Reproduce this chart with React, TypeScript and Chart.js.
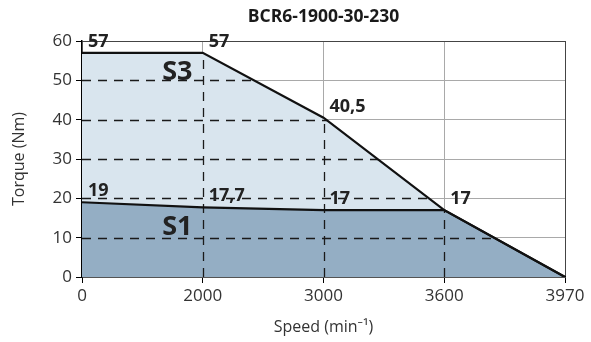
import React, { useEffect, useRef } from 'react';
import { Chart, registerables } from 'chart.js';

Chart.register(...registerables);

const chartTitle = 'BCR6-1900-30-230';
const xTitle = 'Speed (min⁻¹)';
const yTitle = 'Torque (Nm)';
const speedLabels = ['0', '2000', '3000', '3600', '3970'];
const s3Torque = [57, 57, 40.5, 17, 0];
const s1Torque = [19, 17.7, 17, 17, 0];
const s3LabelIdx = [0, 1, 2, 3];
const s1LabelIdx = [0, 1, 2];
const regionNames = ['S1', 'S3'];
const yMax = 60;
const yStep = 10;

const FAMILY = "'Open Sans', 'Noto Sans', sans-serif";
const GRID = '#a9a9a9';
const FRAME = '#444444';
const TEXT = '#333333';

const fmt = (v: number) => String(v).replace('.', ',');

const overlayPlugin = {
  id: 'overlay',
  beforeDatasetsDraw(chart: any) {
    const { ctx, chartArea: a, scales } = chart;
    const x = scales.x;
    const y = scales.y;
    const pts = chart.getDatasetMeta(1).data;
    const y0 = y.getPixelForValue(0);
    ctx.save();
    ctx.beginPath();
    pts.forEach((p: any, i: number) => (i ? ctx.lineTo(p.x, p.y) : ctx.moveTo(p.x, p.y)));
    ctx.lineTo(pts[pts.length - 1].x, y0);
    ctx.lineTo(pts[0].x, y0);
    ctx.closePath();
    ctx.clip();
    ctx.setLineDash([9, 7]);
    ctx.strokeStyle = '#1a1a1a';
    ctx.lineWidth = 1.3;
    y.ticks.forEach((t: any) => {
      if (t.value > 0 && t.value < yMax) {
        const py = Math.round(y.getPixelForValue(t.value)) + 0.5;
        ctx.beginPath();
        ctx.moveTo(a.left, py);
        ctx.lineTo(a.right, py);
        ctx.stroke();
      }
    });
    x.ticks.forEach((t: any, i: number) => {
      if (i > 0 && i < x.ticks.length - 1) {
        const px = Math.round(x.getPixelForTick(i)) + 0.5;
        ctx.beginPath();
        ctx.moveTo(px, a.bottom);
        ctx.lineTo(px, a.top);
        ctx.stroke();
      }
    });
    ctx.restore();
  },
  afterDatasetsDraw(chart: any) {
    const { ctx, scales } = chart;
    const x = scales.x;
    const y = scales.y;
    ctx.save();
    ctx.fillStyle = '#222222';
    ctx.textAlign = 'left';
    ctx.textBaseline = 'alphabetic';
    ctx.font = `bold 18px ${FAMILY}`;
    const drawLabels = (dsIndex: number, idx: number[], values: number[]) => {
      const pts = chart.getDatasetMeta(dsIndex).data;
      idx.forEach((i) => {
        ctx.fillText(fmt(values[i]), pts[i].x + 6, pts[i].y - 6);
      });
    };
    drawLabels(1, s3LabelIdx, s3Torque);
    drawLabels(0, s1LabelIdx, s1Torque);

    ctx.font = `bold 27px ${FAMILY}`;
    ctx.textAlign = 'center';
    ctx.textBaseline = 'middle';
    const regionPos = [
      [0.79, 12.7],
      [0.79, 52],
    ];
    regionNames.forEach((name, k) => {
      const px = x.getPixelForValue(regionPos[k][0]);
      const py = y.getPixelForValue(regionPos[k][1]);
      ctx.fillText(name, px, py);
    });
    ctx.restore();
  },
};

export default function App() {
  const canvasRef = useRef<HTMLCanvasElement | null>(null);

  useEffect(() => {
    if (!canvasRef.current) return;
    const chart = new Chart(canvasRef.current, {
      type: 'line',
      data: {
        labels: speedLabels,
        datasets: [
          {
            label: 'S1',
            data: s1Torque,
            borderColor: '#111111',
            borderWidth: 2.2,
            backgroundColor: '#94aec4',
            fill: 'origin',
            pointRadius: 0,
            tension: 0,
          },
          {
            label: 'S3',
            data: s3Torque,
            borderColor: '#111111',
            borderWidth: 2.2,
            backgroundColor: '#d9e5ee',
            fill: 'origin',
            pointRadius: 0,
            tension: 0,
          },
        ],
      },
      options: {
        animation: false,
        responsive: true,
        maintainAspectRatio: false,
        layout: { padding: { left: 0, right: 26, top: 0, bottom: 0 } },
        plugins: {
          legend: { display: false },
          tooltip: { enabled: false },
          filler: { drawTime: 'beforeDatasetsDraw' },
          title: {
            display: true,
            text: chartTitle,
            fullSize: false,
            color: '#1a1a1a',
            font: { family: FAMILY, size: 17.5, weight: 'bold' },
            padding: { top: 7, bottom: 13 },
          },
        },
        scales: {
          x: {
            type: 'category',
            offset: false,
            afterFit: (s: any) => {
              s.height = 65;
            },
            grid: {
              offset: false,
              color: (c: any) => (c.index === speedLabels.length - 1 ? FRAME : GRID),
              tickColor: '#000000',
              tickLength: 6,
              lineWidth: 1,
            },
            border: { color: '#000000', width: 1.5 },
            ticks: {
              color: TEXT,
              font: { family: FAMILY, size: 17 },
              padding: 3,
              maxRotation: 0,
              autoSkip: false,
            },
            title: {
              display: true,
              text: xTitle,
              color: TEXT,
              font: { family: FAMILY, size: 16 },
              padding: { top: 0, bottom: 5 },
            },
          },
          y: {
            min: 0,
            max: yMax,
            afterFit: (s: any) => {
              s.width = 82;
            },
            grid: {
              color: (c: any) => (c.tick && c.tick.value === yMax ? FRAME : GRID),
              tickColor: '#000000',
              tickLength: 6,
              lineWidth: 1,
            },
            border: { color: '#000000', width: 1.5 },
            ticks: {
              stepSize: yStep,
              color: TEXT,
              font: { family: FAMILY, size: 17 },
              padding: 4,
            },
            title: {
              display: true,
              text: yTitle,
              color: TEXT,
              font: { family: FAMILY, size: 16 },
              padding: { top: 10, bottom: 0 },
            },
          },
        },
      },
      plugins: [overlayPlugin],
    } as any);
    return () => chart.destroy();
  }, []);

  return (
    <div style={{ position: 'fixed', left: 0, top: 0, width: 591, height: 342, background: '#ffffff' }}>
      <canvas ref={canvasRef} />
    </div>
  );
}
